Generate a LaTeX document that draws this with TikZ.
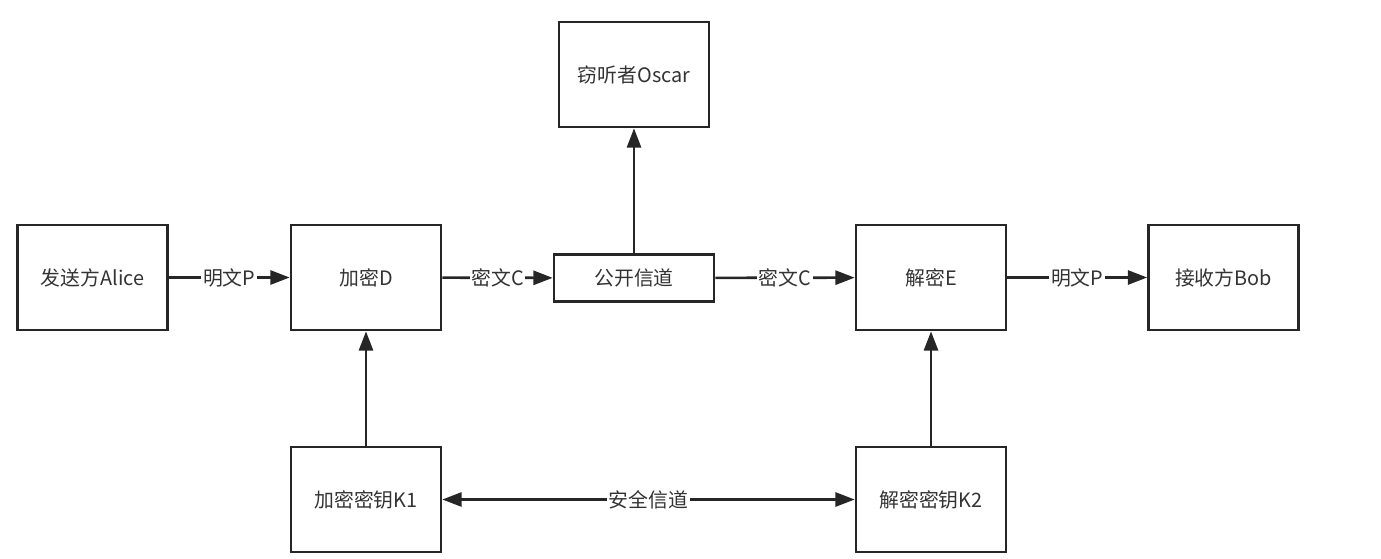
\documentclass[tikz,border=0pt]{standalone}
\usepackage{fontspec}
\setmainfont{Noto Sans CJK SC}
\usetikzlibrary{arrows.meta}
\usetikzlibrary{positioning}

\begin{document}
\begin{tikzpicture}[
  x=0.02cm, y=-0.02cm,
  line width=1.5pt,
  every node/.style={font=\fontsize{11.3}{13}\selectfont, text=black!80},
  box/.style={draw=black!85, minimum width=3cm, minimum height=2.1cm, inner sep=0pt},
  chan/.style={draw=black!85, minimum width=3.2cm, minimum height=0.94cm, inner sep=0pt},
  flow/.style={draw=black!85, -{Triangle[length=11pt,width=8pt]}},
  tag/.style={fill=white, inner sep=1pt}]
\useasboundingbox (0,0) rectangle (1381,558);
\node[box] (alice) at (92.5,277.5) {发送方Alice};
\node[box] (enc) at (366,277.5) {加密D};
\node[chan] (pub) at (634,278) {公开信道};
\node[box] (oscar) at (634,74.5) {窃听者Oscar};
\node[box] (dec) at (931,277.5) {解密E};
\node[box] (bob) at (1223.5,277.5) {接收方Bob};
\node[box] (keyA) at (366,499.5) {加密密钥K1};
\node[box] (keyB) at (931,499.5) {解密密钥K2};
\draw[flow] (alice) -- node[tag] {明文P} (enc);
\draw[flow] (enc) -- node[tag] {密文C} (pub);
\draw[flow] (pub) -- node[tag] {密文C} (dec);
\draw[flow] (dec) -- node[tag] {明文P} (bob);
\draw[flow] (pub) -- (oscar);
\draw[flow] (keyA) -- (enc);
\draw[flow] (keyB) -- (dec);
\draw[flow, {Triangle[length=11pt,width=8pt]}-{Triangle[length=11pt,width=8pt]}] (keyA) -- node[tag] {安全信道} (keyB);
\end{tikzpicture}
\end{document}
